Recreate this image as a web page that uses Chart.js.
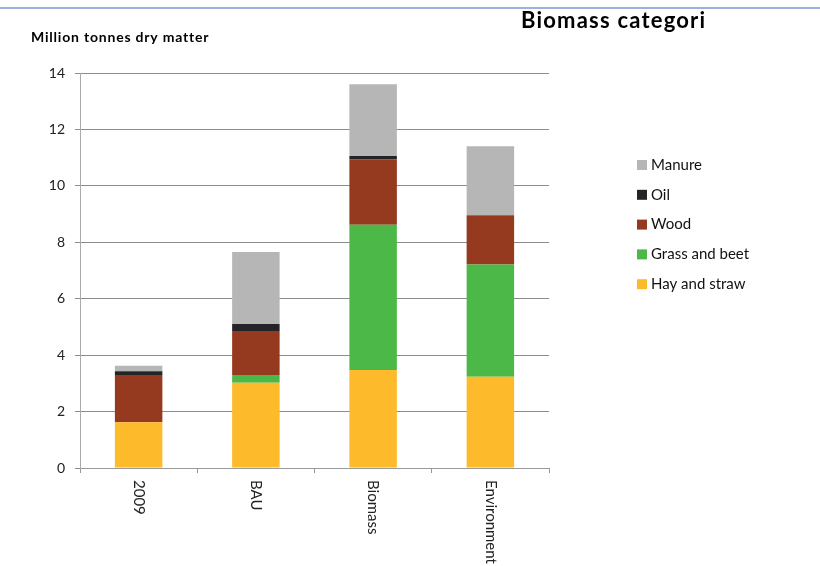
<!DOCTYPE html>
<html lang="en">
<head>
    <meta charset="UTF-8">
    <title>Biomass categories</title>
    <script src="https://cdn.jsdelivr.net/npm/chart.js"></script>
    <style>
        body {
            margin: 0;
            padding: 0;
            background-color: #fff;
        }

        .chart-container {
            position: relative;
            width: 820px;
            height: 566px;
        }
    </style>
</head>
<body>
    <div class="chart-container">
        <canvas id="biomassChart"></canvas>
    </div>

    <script>
        // Values (million tonnes dry matter)
        const scenarios = ['2009', 'BAU', 'Biomass', 'Environment'];
        const hayAndStraw = [1.62, 3.02, 3.47, 3.23];
        const grassAndBeet = [0, 0.28, 5.15, 3.98];
        const wood = [1.68, 1.56, 2.32, 1.75];
        const oil = [0.13, 0.24, 0.12, 0];
        const manure = [0.19, 2.56, 2.54, 2.44];
        const yTicks = [0, 2, 4, 6, 8, 10, 12, 14];

        const fontFamily = 'Lato, "Open Sans", sans-serif';

        // Title, axis title, rotated category labels and legend
        const decorations = {
            id: 'decorations',
            afterDraw(chart) {
                const ctx = chart.ctx;
                const xScale = chart.scales.x;
                ctx.save();

                // thin blue rule along the top
                ctx.strokeStyle = '#9db1dc';
                ctx.lineWidth = 2;
                ctx.beginPath();
                ctx.moveTo(0, 8);
                ctx.lineTo(chart.width, 8);
                ctx.stroke();

                ctx.fillStyle = '#000';
                ctx.textBaseline = 'alphabetic';
                ctx.textAlign = 'left';
                ctx.font = 'bold 22px ' + fontFamily;
                ctx.letterSpacing = '1.2px';
                ctx.fillText('Biomass categori', 521, 28);

                ctx.font = 'bold 14px ' + fontFamily;
                ctx.letterSpacing = '0.8px';
                ctx.fillText('Million tonnes dry matter', 31, 42);
                ctx.letterSpacing = '0px';

                // category labels, turned clockwise
                ctx.font = '15px ' + fontFamily;
                ctx.fillStyle = '#222';
                ctx.textBaseline = 'middle';
                scenarios.forEach((label, i) => {
                    const x = xScale.getPixelForTick(i);
                    ctx.save();
                    ctx.translate(x, xScale.top + 12);
                    ctx.rotate(Math.PI / 2);
                    ctx.fillText(label, 0, 0);
                    ctx.restore();
                });

                // legend, top item = last dataset
                ctx.font = '15px ' + fontFamily;
                const items = chart.data.datasets.slice().reverse();
                items.forEach((ds, i) => {
                    const cy = 165 + i * 29.8;
                    ctx.fillStyle = ds.backgroundColor;
                    ctx.fillRect(637, cy - 5, 10, 10);
                    ctx.fillStyle = '#111';
                    ctx.fillText(ds.label, 651, cy);
                });

                ctx.restore();
            }
        };

        const ctx = document.getElementById('biomassChart').getContext('2d');
        new Chart(ctx, {
            type: 'bar',
            data: {
                labels: scenarios,
                datasets: [
                    { label: 'Hay and straw', data: hayAndStraw, backgroundColor: '#fdbb2c' },
                    { label: 'Grass and beet', data: grassAndBeet, backgroundColor: '#4cb848' },
                    { label: 'Wood', data: wood, backgroundColor: '#963a1f' },
                    { label: 'Oil', data: oil, backgroundColor: '#222427' },
                    { label: 'Manure', data: manure, backgroundColor: '#b5b6b5' }
                ]
            },
            options: {
                responsive: true,
                maintainAspectRatio: false,
                animation: false,
                layout: {
                    padding: { top: 73, right: 271, bottom: 0, left: 0 }
                },
                plugins: {
                    legend: { display: false },
                    title: { display: false },
                    tooltip: { enabled: false }
                },
                datasets: {
                    bar: {
                        categoryPercentage: 1,
                        barPercentage: 0.405
                    }
                },
                scales: {
                    x: {
                        stacked: true,
                        ticks: { display: false },
                        grid: {
                            drawOnChartArea: false,
                            drawTicks: true,
                            tickLength: 5,
                            color: '#999'
                        },
                        border: { color: '#999', width: 1 },
                        afterFit(scale) {
                            scale.height = 98;
                        }
                    },
                    y: {
                        stacked: true,
                        min: 0,
                        max: 14,
                        afterBuildTicks(scale) {
                            scale.ticks = yTicks.map(v => ({ value: v }));
                        },
                        ticks: {
                            padding: 10,
                            color: '#222',
                            font: { family: fontFamily, size: 14 }
                        },
                        grid: {
                            color: '#8c8c8c',
                            lineWidth: 1,
                            tickLength: 5
                        },
                        border: { color: '#aaa', width: 1 },
                        afterFit(scale) {
                            scale.width = 80;
                        }
                    }
                }
            },
            plugins: [decorations]
        });
    </script>
</body>
</html>
